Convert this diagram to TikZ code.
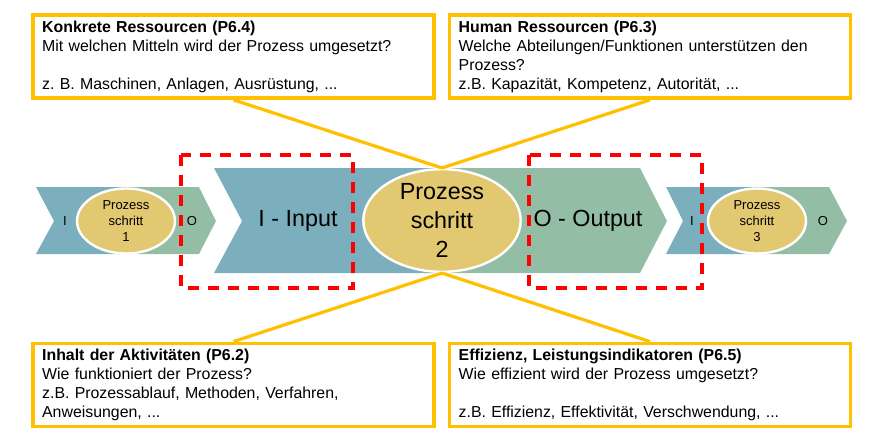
\documentclass[tikz,border=0pt]{standalone}
\usepackage{fontspec}
\setmainfont{Liberation Sans}
\usepackage{tikz}
\usetikzlibrary{shapes.geometric}
\frenchspacing
\definecolor{procblue}{HTML}{7BAFBD}
\definecolor{procgreen}{HTML}{93BEA5}
\definecolor{stepgold}{HTML}{E3C872}
\definecolor{boxgold}{HTML}{FFC000}
\tikzset{
  infobox/.style={draw=boxgold, line width=2.6pt, fill=white, minimum width=300.75pt,
    minimum height=62.5pt, text width=287pt, inner xsep=6.75pt, align=left,
    font=\fontsize{11.9}{14.2}\selectfont},
  stepell/.style={ellipse, draw=white, line width=1.8pt, fill=stepgold, inner sep=0pt},
  smalltext/.style={font=\fontsize{9.75}{12}\selectfont, align=center},
  bigtext/.style={font=\fontsize{17.5}{21.75}\selectfont, align=center},
  reddash/.style={draw=red, line width=3pt, dash pattern=on 8.5pt off 6.5pt},
  link/.style={draw=boxgold, line width=2.4pt}
}

\begin{document}
\begin{tikzpicture}[x=0.75pt,y=-0.75pt]
\useasboundingbox (0,0) rectangle (872,447);

% chevron 1
\fill[procblue] (36,187)--(126,187)--(126,254)--(36,254)--(54,221)--cycle;
\fill[procgreen] (126,187)--(199,187)--(216,221)--(199,254)--(126,254)--cycle;
% chevron 2
\fill[procblue] (214,168)--(442,168)--(442,273)--(214,273)--(242,221)--cycle;
\fill[procgreen] (442,168)--(640,168)--(667,221)--(640,273)--(442,273)--cycle;
% chevron 3
\fill[procblue] (666,187)--(757,187)--(757,254)--(666,254)--(683,221)--cycle;
\fill[procgreen] (757,187)--(829,187)--(847,221)--(829,254)--(757,254)--cycle;

\node[stepell, minimum width=73.5pt, minimum height=48.75pt] (p1) at (126,221) {};
\node[smalltext] (p1text) at (p1) {Prozess\\schritt\\1};
\node[stepell, minimum width=118pt, minimum height=77pt] (p2) at (442,220.5) {};
\node[bigtext] (p2text) at (p2) {Prozess\\schritt\\2};
\node[stepell, minimum width=73.5pt, minimum height=48.75pt] (p3) at (757,221) {};
\node[smalltext] (p3text) at (p3) {Prozess\\schritt\\3};

\node[smalltext] (in1) at (65,221) {I};
\node[smalltext] (out1) at (192,221) {O};
\node[bigtext] (in2) at (298,221) {I - Input};
\node[bigtext] (out2) at (588,221) {O - Output};
\node[smalltext] (in3) at (692,221) {I};
\node[smalltext] (out3) at (823,221) {O};

\draw[reddash] (181,155) rectangle (353,288);
\draw[reddash] (529,155) rectangle (702,288);

\node[infobox] (kr) at (233.5,56.5) {\textbf{Konkrete Ressourcen (P6.4)}\\
  Mit welchen Mitteln wird der Prozess umgesetzt?\\[14.2pt]
  z. B. Maschinen, Anlagen, Ausrüstung, ...};
\node[infobox] (hr) at (650,56.5) {\textbf{Human Ressourcen (P6.3)}\\
  Welche Abteilungen/Funktionen unterstützen den\\
  Prozess?\\
  z.B. Kapazität, Kompetenz, Autorität, ...};
\node[infobox] (ia) at (233.5,385) {\textbf{Inhalt der Aktivitäten (P6.2)}\\
  Wie funktioniert der Prozess?\\
  z.B. Prozessablauf, Methoden, Verfahren,\\
  Anweisungen, ...};
\node[infobox] (el) at (650,385) {\textbf{Effizienz, Leistungsindikatoren (P6.5)}\\
  Wie effizient wird der Prozess umgesetzt?\\[14.2pt]
  z.B. Effizienz, Effektivität, Verschwendung, ...};

\draw[link] (kr.south) -- (p2.north);
\draw[link] (hr.south) -- (p2.north);
\draw[link] (ia.north) -- (p2.south);
\draw[link] (el.north) -- (p2.south);
\end{tikzpicture}
\end{document}
